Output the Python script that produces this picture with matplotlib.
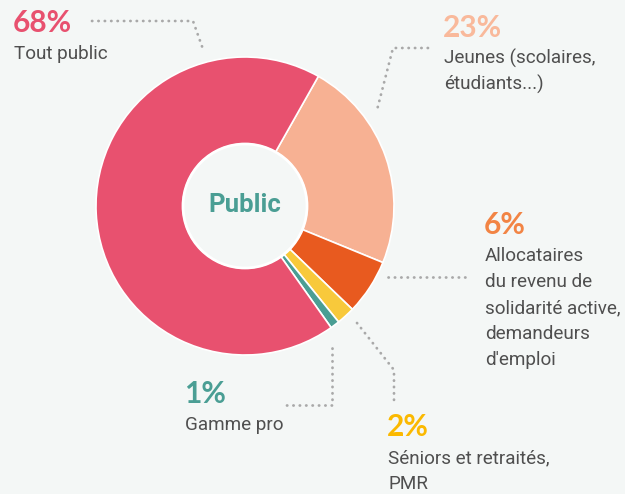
import matplotlib.pyplot as plt
from matplotlib.patches import Circle

# donnees du graphique (ordre horaire a partir du haut droit)
valeurs = [23, 6, 2, 1, 68]
couleurs = ["#f7b193", "#e85a1f", "#f8c93b", "#4a9e94", "#e8516f"]
pourcents = ["23%", "6%", "2%", "1%", "68%"]
couleurs_txt = ["#f9b99b", "#f28444", "#fbb900", "#4a9e94", "#e8516f"]
libelles = [
    ["Jeunes (scolaires,", "étudiants...)"],
    ["Allocataires", "du revenu de", "solidarité active,", "demandeurs", "d'emploi"],
    ["Séniors et retraités,", "PMR"],
    ["Gamme pro"],
    ["Tout public"],
]

FOND = "#f4f7f6"
H = 494

fig = plt.figure(figsize=(6.25, 4.94), dpi=100, facecolor=FOND)
ax = fig.add_axes([0, 0, 1, 1])

cx, cy = 245, H - 206
ax.pie(valeurs, colors=couleurs, startangle=60.5, counterclock=False,
       center=(cx, cy), radius=149, frame=True,
       wedgeprops=dict(width=149 - 62, edgecolor="white", linewidth=1.2))
ax.set_xlim(0, 625)
ax.set_ylim(0, H)
ax.set_aspect("equal")
ax.axis("off")
ax.add_patch(Circle((cx, cy), 62, facecolor=FOND, edgecolor="white", lw=2, zorder=5))
ax.text(cx, cy + 1, "Public", ha="center", va="center", color="#4a9e94",
        fontsize=18.5, fontweight="bold", family=["Roboto"], zorder=6)

# positions des etiquettes (x, ligne de base du pourcentage)
pos = [(444, 37), (485, 234), (388, 436), (185, 403), (14, 32)]
for p, c, lab, (x, y) in zip(pourcents, couleurs_txt, libelles, pos):
    ax.text(x - 1, H - y, p, color=c, fontsize=21.5, fontweight="bold",
            family=["Lato"], va="baseline", ha="left")
    for i, ligne in enumerate(lab):
        ax.text(x, H - (y + 27 + i * 26), ligne, color="#4f4f4f", fontsize=13.6,
                family=["Roboto"], va="baseline", ha="left")

# lignes pointillees
lignes = [
    [(92, 21), (193, 21), (204, 52)],
    [(428, 48), (393, 48), (377, 110)],
    [(388, 277), (470, 277)],
    [(357, 323), (394, 370), (394, 405)],
    [(332, 348), (332, 405), (283, 405)],
]
for l in lignes:
    xs = [p[0] for p in l]
    ys = [H - p[1] for p in l]
    ax.plot(xs, ys, color="#a9a9a9", lw=2, linestyle=(0, (0.1, 2.2)),
            dash_capstyle="round", solid_capstyle="round")

fig.savefig("out.png", dpi=100, facecolor=FOND)
